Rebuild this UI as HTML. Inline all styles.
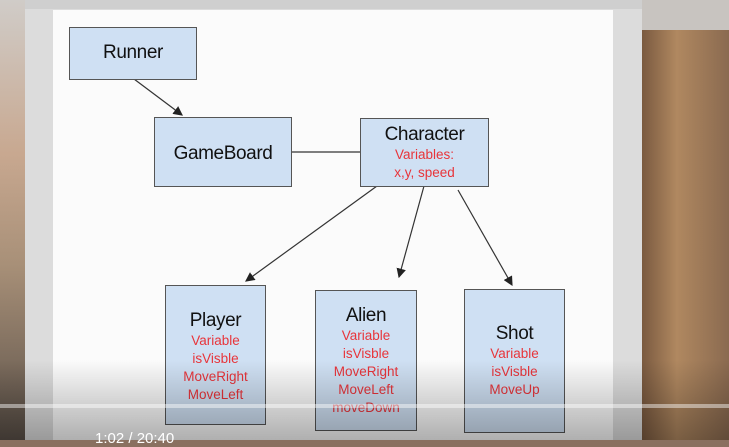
<!DOCTYPE html>
<html><head><style>
html,body{margin:0;padding:0;}
body{width:729px;height:440px;overflow:hidden;position:relative;background:#8a7060;font-family:"Liberation Sans",sans-serif;}
.abs{position:absolute;}
.box{position:absolute;background:#cfe0f3;border:1.5px solid #555;box-sizing:border-box;text-align:center;color:#111;}
.t{font-size:19px;letter-spacing:-0.4px;}
.r{color:#e8343a;font-size:13.5px;line-height:18px;}
</style></head><body>
<div class="abs" style="left:0;top:0;width:25px;height:440px;background:linear-gradient(#d0ccc8,#c8a890 35%,#a89078 60%,#5a5048)"></div>
<div class="abs" style="left:642px;top:0;width:87px;height:440px;background:linear-gradient(90deg,#7a5a40,#b08860 40%,#8a6a50);"></div>
<div class="abs" style="left:642px;top:0;width:87px;height:30px;background:#c8c4c0"></div>
<div class="abs" style="left:25px;top:0;width:617px;height:440px;background:#dcdcdc"></div>
<div class="abs" style="left:25px;top:0;width:617px;height:9px;background:#cfcfcf"></div>
<div class="abs" style="left:53px;top:10px;width:560px;height:430px;background:#fbfbfb"></div>
<svg class="abs" style="left:0;top:0" width="729" height="440">
<defs><marker id="a" markerWidth="8" markerHeight="8" refX="7" refY="4" orient="auto"><path d="M0,0L8,4L0,8z" fill="#222"/></marker></defs>
<g stroke="#333" stroke-width="1.2" fill="none">
<line x1="134" y1="79" x2="182" y2="115" marker-end="url(#a)"/>
<line x1="291" y1="152" x2="360" y2="152"/>
<line x1="377" y1="186" x2="246" y2="281" marker-end="url(#a)"/>
<line x1="424" y1="186" x2="399" y2="277" marker-end="url(#a)"/>
<line x1="458" y1="190" x2="512" y2="285" marker-end="url(#a)"/>
</g></svg>
<div class="box" style="left:69px;top:27px;width:128px;height:53px;"><div class="t" style="margin-top:14px">Runner</div></div>
<div class="box" style="left:154px;top:117px;width:138px;height:70px;"><div class="t" style="margin-top:25px">GameBoard</div></div>
<div class="box" style="left:360px;top:118px;width:129px;height:69px;"><div class="t" style="margin-top:5px">Character</div><div class="r">Variables:<br>x,y, speed</div></div>
<div class="box" style="left:165px;top:285px;width:101px;height:140px;"><div class="t" style="margin-top:24px">Player</div><div class="r">Variable<br>isVisble<br>MoveRight<br>MoveLeft</div></div>
<div class="box" style="left:315px;top:290px;width:102px;height:141px;"><div class="t" style="margin-top:14px">Alien</div><div class="r">Variable<br>isVisble<br>MoveRight<br>MoveLeft<br>moveDown</div></div>
<div class="box" style="left:464px;top:289px;width:101px;height:144px;"><div class="t" style="margin-top:33px">Shot</div><div class="r">Variable<br>isVisble<br>MoveUp</div></div>
<div class="abs" style="left:0;top:360px;width:729px;height:80px;background:linear-gradient(rgba(0,0,0,0),rgba(0,0,0,0.3))"></div>
<div class="abs" style="left:0;top:404px;width:729px;height:4px;background:rgba(255,255,255,0.45)"></div>
<div class="abs" style="left:95px;top:430px;color:#fff;font-size:15px">1:02 / 20:40</div>
</body></html>
